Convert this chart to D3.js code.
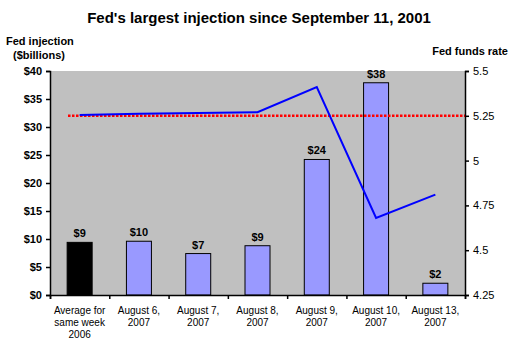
<!DOCTYPE html>
<html>
<head>
<meta charset="utf-8">
<script src="https://cdn.jsdelivr.net/npm/d3@7"></script>
<style>
  body { margin: 0; background: #fff; }
  text { font-family: "Liberation Sans", Arial, sans-serif; }
</style>
</head>
<body>
<div id="chart"></div>
<script>
// Chart data
const categories = ["Average for|same week|2006", "August 6,|2007", "August 7,|2007", "August 8,|2007",
  "August 9,|2007", "August 10,|2007", "August 13,|2007"];
const injection = [9.4, 9.6, 7.4, 8.8, 24.2, 37.9, 2.1];
const injectionLabels = ["$9", "$10", "$7", "$9", "$24", "$38", "$2"];
const fedFundsRate = [5.255, 5.262, 5.265, 5.27, 5.41, 4.68, 4.81];
const targetRate = 5.25;
const leftTicks = [0, 5, 10, 15, 20, 25, 30, 35, 40];
const rightTicks = [4.25, 4.5, 4.75, 5, 5.25, 5.5];

const W = 516, H = 352;
const margin = { top: 71, right: 51, bottom: 57, left: 50 };
const width = W - margin.left - margin.right;
const height = H - margin.top - margin.bottom;

const svg = d3.select("#chart").append("svg")
  .attr("width", W).attr("height", H);

// Title
svg.append("text")
  .attr("x", 259).attr("y", 23)
  .attr("text-anchor", "middle")
  .style("font-size", "15px").style("font-weight", "bold")
  .text("Fed's largest injection since September 11, 2001");

// Axis titles
svg.append("text").attr("x", 6).attr("y", 45)
  .style("font-size", "11px").style("font-weight", "bold")
  .text("Fed injection");
svg.append("text").attr("x", 13).attr("y", 59)
  .style("font-size", "11px").style("font-weight", "bold")
  .text("($billions)");
svg.append("text").attr("x", 508).attr("y", 55)
  .attr("text-anchor", "end")
  .style("font-size", "11px").style("font-weight", "bold")
  .text("Fed funds rate");

const g = svg.append("g").attr("transform", `translate(${margin.left},${margin.top})`);

// Plot background
g.append("rect").attr("width", width).attr("height", height).attr("fill", "#c0c0c0");

const x = d3.scaleBand().domain(d3.range(categories.length)).range([0, width]);
const y = d3.scaleLinear().domain([0, 40]).range([height, 0]);
const y2 = d3.scaleLinear().domain([4.25, 5.5]).range([height, 0]);

// Bars
const barW = 25;
g.selectAll(".bar").data(injection).join("rect")
  .attr("x", (d, i) => x(i) + x.bandwidth() / 2 - barW / 2)
  .attr("y", d => y(d))
  .attr("width", barW)
  .attr("height", d => height - y(d))
  .attr("fill", (d, i) => i === 0 ? "#000000" : "#9999ff")
  .attr("stroke", "#000")
  .attr("stroke-width", 1);

// Bar labels
g.selectAll(".blabel").data(injection).join("text")
  .attr("x", (d, i) => x(i) + x.bandwidth() / 2)
  .attr("y", d => y(d) - 5)
  .attr("text-anchor", "middle")
  .style("font-size", "11px").style("font-weight", "bold")
  .text((d, i) => injectionLabels[i]);

// Target rate dotted line
g.append("line")
  .attr("x1", 18).attr("x2", width)
  .attr("y1", y2(targetRate)).attr("y2", y2(targetRate))
  .attr("stroke", "#ff0000").attr("stroke-width", 2.5)
  .attr("stroke-dasharray", "2.5,1.5");

// Fed funds rate line
g.append("path")
  .datum(fedFundsRate)
  .attr("fill", "none")
  .attr("stroke", "#0000ff").attr("stroke-width", 2)
  .attr("d", d3.line()
    .x((d, i) => x(i) + x.bandwidth() / 2)
    .y(d => y2(d)));

// Left axis
const yAxis = g.append("g")
  .call(d3.axisLeft(y).tickValues(leftTicks).tickFormat(d => "$" + d).tickSize(4).tickPadding(4));
// Right axis
const y2Axis = g.append("g").attr("transform", `translate(${width},0)`)
  .call(d3.axisRight(y2).tickValues(rightTicks).tickFormat(d => d).tickSize(4).tickPadding(4));
// Bottom axis with ticks at category boundaries
const xb = d3.scaleLinear().domain([0, categories.length]).range([0, width]);
const xAxis = g.append("g").attr("transform", `translate(0,${height})`)
  .call(d3.axisBottom(xb).tickValues(d3.range(categories.length + 1)).tickFormat("").tickSize(4));

[yAxis, y2Axis, xAxis].forEach(a => {
  a.select(".domain").attr("stroke", "#000").attr("stroke-width", 1.5);
  a.selectAll(".tick line").attr("stroke", "#000").attr("stroke-width", 1.5);
  a.selectAll(".tick text").style("font-size", "11px").style("font-family", "Liberation Sans, Arial, sans-serif").attr("fill", "#000");
});
yAxis.selectAll(".tick text").style("font-weight", "bold");

// Category labels
const cl = g.selectAll(".clabel").data(categories).join("text")
  .attr("x", (d, i) => x(i) + x.bandwidth() / 2)
  .attr("y", height + 19)
  .attr("text-anchor", "middle")
  .style("font-size", "10px");
cl.each(function (d) {
  const parts = d.split("|");
  const t = d3.select(this);
  parts.forEach((p, k) => {
    t.append("tspan")
      .attr("x", t.attr("x"))
      .attr("dy", k === 0 ? 0 : 12)
      .text(p);
  });
});
</script>
</body>
</html>
